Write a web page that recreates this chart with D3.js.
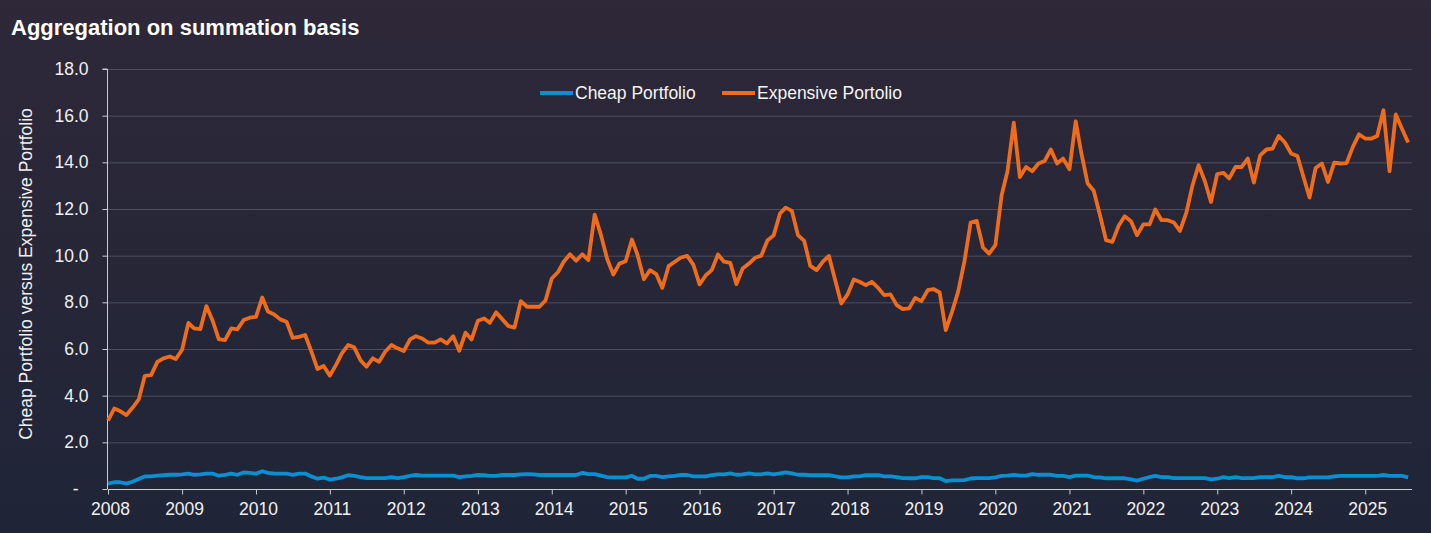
<!DOCTYPE html>
<html>
<head>
<meta charset="utf-8">
<script src="https://cdn.jsdelivr.net/npm/d3@7"></script>
<style>
  html, body { margin: 0; padding: 0; background: #262737; }
  svg { display: block; font-family: "Liberation Sans", Arial, sans-serif; }
  .axis path, .axis line { stroke: #c9cbd2; }
  .axis text { fill: #f0f0f0; font-size: 17.5px; }
  .grid line { stroke: #4b4f5f; stroke-width: 1; }
</style>
</head>
<body>
<div id="chart"></div>
<script>
// Monthly values, Jan 2008 .. Aug 2025
const startYear = 2008;
const expensive = [
  2.93, 3.45, 3.34, 3.17, 3.48, 3.84, 4.85, 4.88, 5.45, 5.60, 5.68, 5.57,
  5.97, 7.12, 6.88, 6.85, 7.84, 7.21, 6.42, 6.38, 6.88, 6.84, 7.24, 7.34,
  7.38, 8.21, 7.61, 7.48, 7.27, 7.17, 6.48, 6.52, 6.60, 5.91, 5.14, 5.27,
  4.86, 5.33, 5.81, 6.17, 6.07, 5.52, 5.24, 5.60, 5.45, 5.88, 6.17, 6.03,
  5.91, 6.41, 6.55, 6.45, 6.27, 6.27, 6.41, 6.24, 6.55, 5.92, 6.70, 6.41,
  7.21, 7.31, 7.12, 7.57, 7.28, 6.98, 6.92, 8.05, 7.81, 7.81, 7.81, 8.08,
  9.02, 9.30, 9.74, 10.06, 9.78, 10.06, 9.81, 11.76, 10.88, 9.88, 9.19, 9.66,
  9.76, 10.69, 10.02, 8.99, 9.38, 9.21, 8.62, 9.55, 9.74, 9.92, 9.99, 9.62,
  8.77, 9.16, 9.38, 10.05, 9.74, 9.69, 8.78, 9.45, 9.66, 9.91, 10.00, 10.65,
  10.87, 11.80, 12.06, 11.92, 10.88, 10.63, 9.56, 9.38, 9.74, 9.99, 8.95, 7.95,
  8.34, 8.98, 8.88, 8.74, 8.88, 8.62, 8.31, 8.34, 7.88, 7.71, 7.74, 8.19,
  8.05, 8.52, 8.57, 8.42, 6.81, 7.59, 8.45, 9.74, 11.42, 11.49, 10.35, 10.09,
  10.45, 12.59, 13.62, 15.70, 13.37, 13.80, 13.62, 13.95, 14.06, 14.55, 13.95, 14.16,
  13.70, 15.76, 14.38, 13.09, 12.78, 11.73, 10.66, 10.59, 11.28, 11.69, 11.48, 10.88,
  11.34, 11.34, 11.98, 11.52, 11.52, 11.42, 11.06, 11.83, 13.02, 13.88, 13.19, 12.30,
  13.50, 13.55, 13.31, 13.80, 13.80, 14.16, 13.13, 14.30, 14.55, 14.59, 15.13, 14.85,
  14.38, 14.27, 13.40, 12.49, 13.76, 13.95, 13.16, 13.99, 13.95, 13.97, 14.66, 15.20,
  15.02, 15.02, 15.13, 16.23, 13.62, 16.05, 15.45, 14.85
];
const cheap = [
  0.23, 0.29, 0.29, 0.23, 0.31, 0.43, 0.54, 0.54, 0.57, 0.59, 0.61, 0.61,
  0.63, 0.66, 0.61, 0.63, 0.66, 0.66, 0.57, 0.61, 0.66, 0.61, 0.71, 0.69,
  0.66, 0.76, 0.69, 0.66, 0.66, 0.66, 0.61, 0.66, 0.66, 0.54, 0.44, 0.49,
  0.40, 0.44, 0.50, 0.59, 0.56, 0.51, 0.47, 0.47, 0.47, 0.47, 0.51, 0.47,
  0.51, 0.56, 0.60, 0.57, 0.57, 0.57, 0.57, 0.57, 0.57, 0.51, 0.54, 0.56,
  0.60, 0.59, 0.56, 0.56, 0.60, 0.60, 0.60, 0.63, 0.64, 0.63, 0.60, 0.60,
  0.60, 0.60, 0.60, 0.60, 0.60, 0.69, 0.64, 0.64, 0.57, 0.51, 0.50, 0.50,
  0.50, 0.56, 0.44, 0.44, 0.56, 0.56, 0.51, 0.54, 0.56, 0.60, 0.60, 0.54,
  0.54, 0.54, 0.59, 0.63, 0.63, 0.67, 0.61, 0.63, 0.67, 0.63, 0.63, 0.67,
  0.63, 0.67, 0.71, 0.67, 0.61, 0.61, 0.59, 0.59, 0.59, 0.59, 0.54, 0.50,
  0.50, 0.54, 0.54, 0.59, 0.59, 0.59, 0.54, 0.54, 0.51, 0.47, 0.46, 0.46,
  0.51, 0.51, 0.47, 0.46, 0.34, 0.37, 0.37, 0.38, 0.45, 0.47, 0.47, 0.47,
  0.50, 0.56, 0.57, 0.61, 0.57, 0.57, 0.64, 0.61, 0.61, 0.61, 0.56, 0.56,
  0.51, 0.57, 0.57, 0.57, 0.51, 0.50, 0.46, 0.46, 0.46, 0.46, 0.41, 0.36,
  0.44, 0.51, 0.56, 0.51, 0.51, 0.47, 0.47, 0.47, 0.47, 0.47, 0.47, 0.41,
  0.44, 0.51, 0.47, 0.51, 0.47, 0.47, 0.47, 0.51, 0.51, 0.51, 0.56, 0.51,
  0.51, 0.46, 0.46, 0.50, 0.50, 0.50, 0.50, 0.54, 0.56, 0.56, 0.56, 0.56,
  0.56, 0.56, 0.56, 0.60, 0.56, 0.56, 0.56, 0.50
];
const yearTicks = d3.range(2008, 2026);
const yTicks = [0, 2, 4, 6, 8, 10, 12, 14, 16, 18];

const series = [
  {name: "Cheap Portfolio", values: cheap, color: "#0b8fd0"},
  {name: "Expensive Portolio", values: expensive, color: "#ee6c1b"}
];
const months = expensive.map((d, i) => new Date(startYear, i, 1));

const W = 1431, H = 533, margin = {top: 69, right: 19, bottom: 44, left: 108};

const svg = d3.select('#chart').append('svg')
  .attr('width', W).attr('height', H);

// background
const grad = svg.append('defs').append('linearGradient')
  .attr('id', 'bg').attr('x1', 0).attr('y1', 0).attr('x2', 0).attr('y2', 1);
grad.append('stop').attr('offset', '0%').attr('stop-color', '#2e2838');
grad.append('stop').attr('offset', '100%').attr('stop-color', '#1f2537');
svg.append('rect').attr('width', W).attr('height', H).attr('fill', 'url(#bg)');

// title
svg.append('text')
  .attr('x', 11).attr('y', 35)
  .attr('fill', '#ffffff')
  .style('font-size', '22px').style('font-weight', 'bold')
  .text('Aggregation on summation basis');

const x = d3.scaleTime()
  .domain([new Date(startYear, 0, 1), new Date(2025, 7, 20)])
  .range([margin.left, W - margin.right]);
const y = d3.scaleLinear().domain([0, 18]).range([H - margin.bottom, margin.top]);

// gridlines
svg.append('g').attr('class', 'grid')
  .selectAll('line').data(yTicks.filter(d => d > 0))
  .enter().append('line')
    .attr('x1', margin.left).attr('x2', W - margin.right)
    .attr('y1', d => y(d) + 0.5).attr('y2', d => y(d) + 0.5);

// y axis
const yAxis = svg.append('g').attr('class', 'axis y')
  .attr('transform', `translate(${margin.left - 0.5},0)`)
  .call(d3.axisLeft(y).tickValues(yTicks).tickSize(5).tickPadding(14)
    .tickFormat(d => d === 0 ? '-' : d3.format('.1f')(d)));
yAxis.select('.domain').attr('d', `M-5,${y(18)}H0V${y(0)}`);
yAxis.selectAll('.tick').filter(d => d === 0).select('text').attr('x', -29);

// x axis
const xAxis = svg.append('g').attr('class', 'axis x')
  .attr('transform', `translate(0,${H - margin.bottom + 0.5})`)
  .call(d3.axisBottom(x).tickValues(yearTicks.map(yr => new Date(yr, 0, 1)))
    .tickSize(5).tickPadding(8).tickFormat(d3.timeFormat('%Y')));
xAxis.selectAll('.tick text').attr('dx', 2);
xAxis.select('.domain').attr('d', `M${margin.left},0H${W - margin.right}`);

// y label
svg.append('text')
  .attr('transform', `translate(32,${(y(18) + y(0)) / 2 - 5}) rotate(-90)`)
  .attr('text-anchor', 'middle')
  .attr('fill', '#f0f0f0')
  .style('font-size', '17.5px')
  .text('Cheap Portfolio versus Expensive Portfolio');

// lines
const line = d3.line()
  .x((d, i) => x(months[i]))
  .y(d => y(d));

svg.append('g').selectAll('path.series')
  .data(series)
  .enter().append('path')
    .attr('class', 'series')
    .attr('fill', 'none')
    .attr('stroke', d => d.color)
    .attr('stroke-width', 3.8)
    .attr('stroke-linejoin', 'round')
    .attr('d', d => line(d.values));

// legend
const legendPos = [540, 722];
const lg = svg.append('g').selectAll('g')
  .data(series)
  .enter().append('g')
    .attr('transform', (d, i) => `translate(${legendPos[i]},93)`);
lg.append('line')
  .attr('x1', 0).attr('x2', 33)
  .attr('stroke', d => d.color).attr('stroke-width', 3.8);
lg.append('text')
  .attr('x', 35).attr('dy', '0.35em')
  .attr('fill', '#f4f4f4')
  .style('font-size', '17.5px')
  .text(d => d.name);
</script>
</body>
</html>
